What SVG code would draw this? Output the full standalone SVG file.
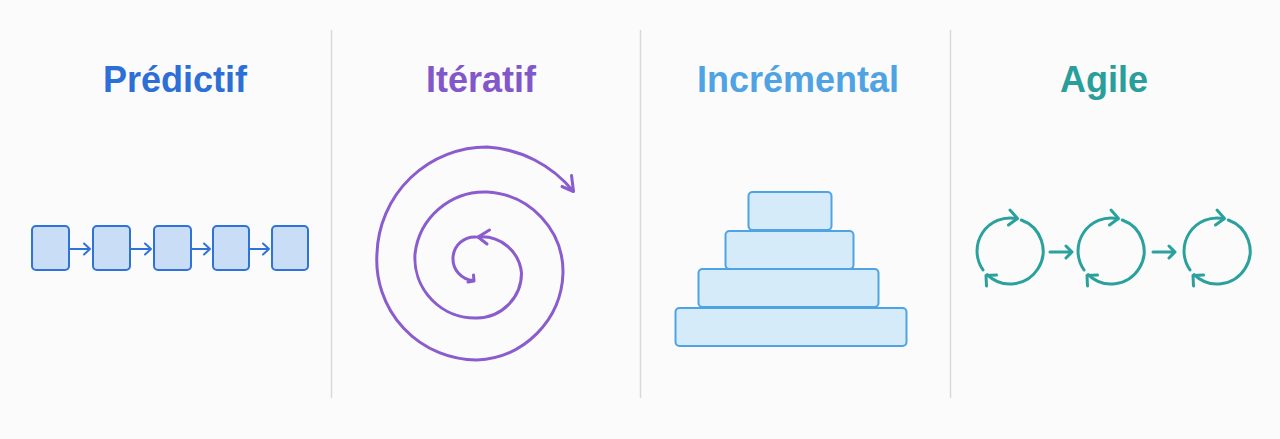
<svg xmlns="http://www.w3.org/2000/svg" width="1280" height="439" viewBox="0 0 1280 439">
<style>
.title{font-family:"Liberation Sans",Arial,sans-serif;font-weight:bold;font-size:36px;text-anchor:middle}
.div{stroke:#D6D9DE;stroke-width:1.5}
.pbox{fill:#CADDF7;stroke:#2F72D8;stroke-width:2}
.parr{fill:none;stroke:#2F72D8;stroke-width:2;stroke-linecap:round;stroke-linejoin:round}
.spiral{fill:none;stroke:#8A5CCD;stroke-width:3;stroke-linecap:round;stroke-linejoin:round}
.ibox{fill:#D6EBFA;stroke:#4EA3E2;stroke-width:2}
.ag{fill:none;stroke:#2AA19D;stroke-width:3;stroke-linecap:round;stroke-linejoin:round}
</style>
<defs>
<g id="cyc">
<path class="ag" d="M -27 18.9 A 33 33 0 0 1 6.9 -32.3"/>
<path class="ag" d="M 0 -41 L 7.5 -32.5 L -1.5 -26"/>
<path class="ag" d="M 11.3 -31 A 33 33 0 1 1 -22.9 23.7"/>
<path class="ag" d="M -13.5 24 L -24 24.5 L -23.5 35"/>
</g>
</defs>
<rect width="1280" height="439" fill="#FBFBFC"/>
<g id="dividers">
<line class="div" x1="331.5" y1="30" x2="331.5" y2="398"/>
<line class="div" x1="640.5" y1="30" x2="640.5" y2="398"/>
<line class="div" x1="950.5" y1="30" x2="950.5" y2="398"/>
</g>
<g id="predictif">
<text class="title" x="175" y="92" fill="#2D6FD6">Prédictif</text>
<rect class="pbox" x="32" y="226" width="37" height="44" rx="4"/>
<rect class="pbox" x="93" y="226" width="37" height="44" rx="4"/>
<rect class="pbox" x="154" y="226" width="37" height="44" rx="4"/>
<rect class="pbox" x="213" y="226" width="36" height="44" rx="4"/>
<rect class="pbox" x="272" y="226" width="36" height="44" rx="4"/>
</g>
<g id="predictif-connectors">
<path class="parr" d="M 69 249 H 90 M 84 243.5 L 90 249 L 84 254.5"/>
<path class="parr" d="M 130 249 H 151 M 145 243.5 L 151 249 L 145 254.5"/>
<path class="parr" d="M 191 249 H 210 M 204 243.5 L 210 249 L 204 254.5"/>
<path class="parr" d="M 249 249 H 269 M 263 243.5 L 269 249 L 263 254.5"/>
</g>
<g id="iteratif">
<text class="title" x="481" y="92" fill="#8257C9">Itératif</text>
<path class="spiral" d="M 478 237 A 40 40 0 0 1 521.5 273 A 45 45 0 0 1 477 318 A 60 60 0 0 1 415 254 A 70 70 0 0 1 487 192 A 80 80 0 0 1 563 273 A 90 90 0 0 1 477 360 A 100 100 0 0 1 377 253 A 110 110 0 0 1 487 147 A 120 120 0 0 1 573 191"/>
<path class="spiral" d="M 562 186.5 L 573.5 191.5 L 571.5 175.5"/>
<path class="spiral" d="M 489.5 230 L 478 237 L 487 244"/>
<path class="spiral" d="M 476 237 A 21.5 21.5 0 0 0 473.5 280.5"/>
<path class="spiral" d="M 473.5 275 L 474 281 L 468 282"/>
</g>
<g id="incremental">
<text class="title" x="798" y="92" fill="#4FA3E3">Incrémental</text>
<rect class="ibox" x="675.5" y="308" width="231" height="38" rx="4"/>
<rect class="ibox" x="698.5" y="269" width="180" height="38" rx="4"/>
<rect class="ibox" x="725.5" y="231" width="128" height="38" rx="4"/>
<rect class="ibox" x="748.5" y="192" width="83" height="38" rx="4" fill="#C9E4F8"/>
</g>
<g id="agile">
<text class="title" x="1104" y="92" fill="#2A9E9B">Agile</text>
<g id="agile-cycle-1"><use href="#cyc" x="1010" y="251"/></g>
<g id="agile-cycle-2"><use href="#cyc" x="1111" y="251"/></g>
<g id="agile-cycle-3"><use href="#cyc" x="1217" y="251"/></g>
</g>
<g id="agile-connectors">
<path class="ag" d="M 1050 252 H 1072 M 1066 246 L 1072 252 L 1066 258" stroke-width="2.5"/>
<path class="ag" d="M 1153 252 H 1175 M 1169 246 L 1175 252 L 1169 258" stroke-width="2.5"/>
</g>
</svg>
